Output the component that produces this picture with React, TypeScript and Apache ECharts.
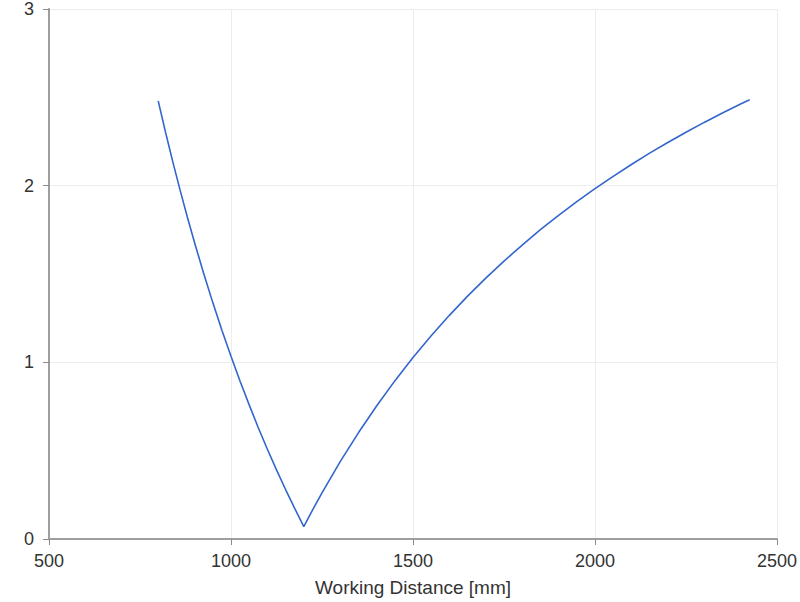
import React, { useEffect, useRef } from "react";
import * as echarts from "echarts";

const distances: number[] = [
  800, 820, 840, 860, 880, 900, 925, 950, 975, 1000, 1025, 1050, 1075, 1100, 1125, 1150, 1175, 1200,
  1225, 1250, 1300, 1350, 1400, 1450, 1500, 1550, 1600, 1650, 1700, 1750, 1800, 1850, 1900, 1950,
  2000, 2050, 2100, 2150, 2200, 2250, 2300, 2350, 2400, 2425,
];
const values: number[] = [
  2.48, 2.304, 2.136, 1.976, 1.823, 1.677, 1.503, 1.338, 1.182, 1.034, 0.893, 0.759, 0.63, 0.508, 0.391, 0.28, 0.173, 0.07,
  0.168, 0.261, 0.438, 0.601, 0.753, 0.895, 1.027, 1.15, 1.266, 1.375, 1.477, 1.573, 1.664, 1.751, 1.832, 1.91,
  1.983, 2.053, 2.12, 2.184, 2.244, 2.302, 2.358, 2.411, 2.462, 2.486,
];
const xTicks = { min: 500, max: 2500, interval: 500 };
const yTicks = { min: 0, max: 3, interval: 1 };
const xTitle = "Working Distance [mm]";

export default function App() {
  const ref = useRef<HTMLDivElement>(null);
  useEffect(() => {
    document.body.style.margin = "0";
    const chart = echarts.init(ref.current!, undefined, { renderer: "svg" });
    const font = "'Liberation Sans', Arial, sans-serif";
    chart.setOption({
      animation: false,
      backgroundColor: "#ffffff",
      grid: { left: 49, right: 22, top: 8, bottom: 61, containLabel: false },
      xAxis: {
        type: "value",
        min: xTicks.min,
        max: xTicks.max,
        interval: xTicks.interval,
        name: xTitle,
        nameLocation: "middle",
        nameGap: 39,
        nameTextStyle: { color: "#333333", fontSize: 19, fontFamily: font },
        axisLine: { show: true, onZero: false, lineStyle: { color: "#9e9e9e", width: 2 } },
        axisTick: { show: true, length: 6, lineStyle: { color: "#8a8a8a", width: 1 } },
        axisLabel: {
          color: "#333333",
          fontSize: 18,
          fontFamily: font,
          margin: 13,
          showMaxLabel: true,
          showMinLabel: true,
          formatter: (v: number) => String(v),
        },
        splitLine: { show: true, lineStyle: { color: "#ececec", width: 1 } },
      },
      yAxis: {
        type: "value",
        min: yTicks.min,
        max: yTicks.max,
        interval: yTicks.interval,
        axisLine: { show: true, lineStyle: { color: "#9e9e9e", width: 2 } },
        axisTick: { show: true, length: 6, lineStyle: { color: "#8a8a8a", width: 1 } },
        axisLabel: { color: "#333333", fontSize: 18, fontFamily: font, margin: 15, formatter: (v: number) => String(v) },
        splitLine: { show: true, lineStyle: { color: "#ececec", width: 1 } },
      },
      series: [
        {
          type: "line",
          data: distances.map((d, i) => [d, values[i]]),
          showSymbol: false,
          smooth: false,
          lineStyle: { color: "#3366cc", width: 1.6 },
          itemStyle: { color: "#3366cc" },
        },
      ],
    });
    return () => chart.dispose();
  }, []);
  return <div ref={ref} style={{ width: 800, height: 602 }} />;
}
